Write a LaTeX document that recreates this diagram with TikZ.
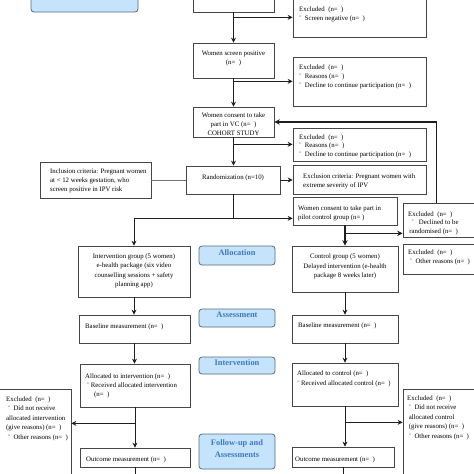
\documentclass[tikz,border=0pt]{standalone}
\usepackage{fontspec}
\setmainfont{Liberation Serif}
\usetikzlibrary{arrows.meta,calc,fit}
\definecolor{bord}{RGB}{70,70,70}
\definecolor{linec}{RGB}{30,30,30}
\definecolor{bluefill}{RGB}{197,227,250}
\definecolor{blueline}{RGB}{85,108,132}
\definecolor{bluetext}{RGB}{62,122,192}
\newcommand\bul{ˉ}
\begin{document}
\begin{tikzpicture}[x=1pt,y=-1pt,
  box/.style={draw=bord,line width=0.7pt,fill=white,inner sep=0pt,align=center,
    font=\fontsize{6.8}{9}\selectfont},
  stage/.style={draw=blueline,line width=0.8pt,fill=bluefill,rounded corners=3pt,inner sep=0pt,
    align=center,text=bluetext,font=\fontsize{8.4}{12}\selectfont\bfseries},
  txt/.style={inner sep=0pt,anchor=north west,align=left,font=\fontsize{6.8}{9}\selectfont},
  arr/.style={draw=linec,line width=0.8pt,-{Stealth[length=5pt,width=5pt]}},
  thickarr/.style={draw=linec,line width=1.3pt,-{Stealth[length=5.5pt,width=5.5pt]}},
  plain/.style={draw=black!55,line width=0.5pt},
  stem/.style={draw=linec,line width=0.8pt}]
\useasboundingbox (0,0) rectangle (474,474);
\fill[white] (0,0) rectangle (474,474);
% stage labels
\node[stage,fit={(31,-20) (138,12)}] (stagetop) {};
\node[stage,fit={(199,246) (275,265)}] (allocation) {Allocation};
\node[stage,fit={(199,309) (275,327)}] (assessment) {Assessment};
\node[stage,fit={(199,357) (275,374)}] (intervention) {Intervention};
\node[stage,fit={(199,434) (275,469)}] (followup) {Follow-up and\\Assessments};
% centre column
\node[box,fit={(193,-20) (274,12)}] (top) {};
\node[box,fit={(193,43) (274,78)}] (screenpos) {Women screen positive\\(n=\ \ )};
\node[box,fit={(193,107) (274,137)}] (consent) {};
\node[inner sep=0pt,align=center,font=\fontsize{6.8}{9}\selectfont] (consentt) at (233.5,124.5) {Women consent to take\\part in VC (n=\ \ )\\COHORT STUDY};
\node[box,fit={(186,166) (280,194)}] (rand) {Randomization (n=10)};
\node[box,fit={(40,162) (151,198)}] (incl) {};
\node[txt] (inclt) at (50,169) {Inclusion criteria: Pregnant women\\at < 12 weeks gestation, who\\screen positive in IPV risk};
% right exclusion boxes
\node[box,fit={(293,-15) (426,37)}] (excl1) {};
\node[txt] (excl1t) at (299,6.2) {Excluded\ \ (n=\ \ )\\\bul\ \ Screen negative (n=\ \ )};
\node[box,fit={(293,57) (426,106)}] (excl2) {};
\node[txt] (excl2t) at (299,64.2) {Excluded\ \ (n=\ \ )\\\bul\ \ Reasons (n=\ \ )\\\bul\ \ Decline to continue participation (n=\ \ )};
\node[box,fit={(293,128) (426,161)}] (excl3) {};
\node[txt,font=\fontsize{6.8}{8.6}\selectfont] (excl3t) at (299,134.2) {Excluded\ \ (n=\ \ )\\\bul\ \ Reasons (n=\ \ )\\\bul\ \ Decline to continue participation (n=\ \ )};
\node[box,fit={(293,165) (426,194)}] (exclcrit) {};
\node[txt] (exclcritt) at (303,173.2) {Exclusion criteria: Pregnant women with\\extreme severity of IPV};
\node[box,fit={(293,197) (397,225)}] (pilot) {};
\node[txt] (pilott) at (298,205.2) {Women consent to take part in\\pilot control group (n=\ )};
\node[box,fit={(403,203) (490,237)}] (declined) {};
\node[txt,font=\fontsize{6.8}{8.6}\selectfont] (declinedt) at (408,211.2) {Excluded\ \ (n=\ \ )\\\ \ \bul\ \ \ Declined to be\\\,randomised (n=\ \ )};
\node[box,fit={(403,244) (490,274)}] (other) {};
\node[txt] (othert) at (408,249.2) {Excluded\ \ (n=\ \ )\\\ \bul\ \ Other reasons (n=\ \ )};
% groups
\node[box,fit={(78,246) (190,297)}] (intgroup) {};
\node[inner sep=0pt,align=center,font=\fontsize{6.8}{9.3}\selectfont] (intgroupt) at (134,271) {Intervention group (5 women)\\e-health package (six video\\counselling sessions + safety\\planning app)};
\node[box,fit={(292,246) (398,292)}] (ctrl) {};
\node[inner sep=0pt,align=center,font=\fontsize{6.8}{9.5}\selectfont] (ctrlt) at (345,266.5) {Control group (5 women)\\Delayed intervention (e-health\\package 8 weeks later)};
\node[box,fit={(79,315) (190,343)}] (baseL) {};
\node[txt] (baseLt) at (85,323.2) {Baseline measurement (n=\ \ )};
\node[box,fit={(292,315) (398,343)}] (baseR) {};
\node[txt] (baseRt) at (298,322.2) {Baseline measurement (n=\ \ )};
\node[box,fit={(80,364) (190,407)}] (allocL) {};
\node[txt] (allocLt) at (85,373.2) {Allocated to intervention (n=\ \ )\\\ \bul\ Received allocated intervention\\\hspace{9pt}(n=\ \ )};
\node[box,fit={(292,363) (398,406)}] (allocR) {};
\node[txt,font=\fontsize{6.8}{10}\selectfont] (allocRt) at (297,370.2) {Allocated to control (n=\ \ )\\\bul\ Received allocated control (n=\ \ )};
\node[box,fit={(-5,389) (71,490)}] (exclL) {};
\node[txt,font=\fontsize{6.8}{9.5}\selectfont] (exclLt) at (6,396.2) {Excluded\ \ (n=\ \ )\\\ \bul\ \ Did not receive\\allocated intervention\\(give reasons) (n=\ \ )\\\ \bul\ \ Other reasons (n=\ \ )};
\node[box,fit={(403,389) (490,490)}] (exclR) {};
\node[txt,font=\fontsize{6.8}{9.5}\selectfont] (exclRt) at (407,395.2) {Excluded\ \ (n=\ \ )\\\ \bul\ \ Did not receive\\\ allocated control\\\ (give reasons) (n=\ \ )\\\ \bul\ \ Other reasons (n=\ \ )};
\node[box,fit={(80,448) (190,467)}] (outL) {};
\node[txt] (outLt) at (86,456.2) {Outcome measurement (n=\ \ )};
\node[box,fit={(292,447) (394,467)}] (outR) {};
\node[txt] (outRt) at (295,456.2) {Outcome measurement (n=\ \ )};
% connectors
\draw[arr] (top.south) -- (screenpos.north);
\coordinate (j1) at ($(top.south)+(0,5)$);
\draw[arr] (j1) -- (j1 -| excl1.west);
\draw[arr] (screenpos.south) -- (consent.north);
\coordinate (j2) at ($(screenpos.south)+(0,3)$);
\draw[arr] (j2) -- (j2 -| excl2.west);
\draw[arr] (consent.south) -- (consent.south |- rand.north);
\coordinate (j3) at ($(consent.south)+(0,7)$);
\draw[arr] (j3) -- (j3 -| excl3.west);
\draw[plain] (incl.east) -- (incl.east -| rand.west);
\draw[arr] (rand.east) -- (rand.east -| exclcrit.west);
\coordinate (j4) at ($(rand.south)+(0,24)$);
\draw[arr] (rand.south) -- (j4) -| (intgroup.north);
\draw[arr] (j4) -- (j4 -| pilot.west);
\draw[thickarr] (pilot.south) -- (pilot.south |- ctrl.north);
\coordinate (j5) at ($(pilot.south)+(0,8)$);
\draw[thickarr] (j5) -- (j5 -| declined.west);
\coordinate (fb) at ($(declined.north west)+(34,0)$);
\draw[thickarr] (fb) |- (consent.east);
\draw[arr] (intgroup.south) -- (intgroup.south |- baseL.north);
\draw[arr] (ctrl.south) -- (ctrl.south |- baseR.north);
\draw[arr] (baseL.south) -- (baseL.south |- allocL.north);
\draw[arr] (baseR.south) -- (baseR.south |- allocR.north);
\draw[arr] (allocL.south) -- (allocL.south |- outL.north);
\coordinate (j7) at ($(allocL.south)+(0,16)$);
\draw[arr] (j7) -- (j7 -| exclL.east);
\draw[arr] (allocR.south) -- (allocR.south |- outR.north);
\coordinate (j8) at ($(allocR.south)+(0,16)$);
\draw[arr] (j8) -- (j8 -| exclR.west);
\coordinate (endL) at ($(outL.south)+(0,12)$);
\coordinate (endR) at ($(outR.south)+(0,12)$);
\draw[stem] (outL.south) -- (endL);
\draw[stem] (outR.south) -- (endR);
\end{tikzpicture}
\end{document}
